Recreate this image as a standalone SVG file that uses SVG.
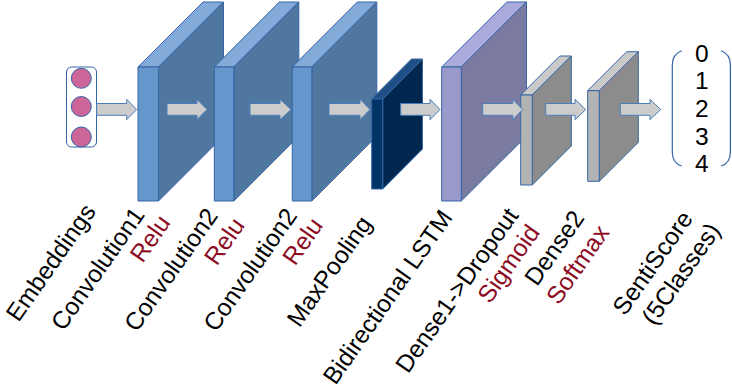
<svg xmlns="http://www.w3.org/2000/svg" width="732" height="392" viewBox="0 0 732 392">
<style>
.bg{fill:#ffffff}
.ln{stroke:#3565A5;stroke-width:1;stroke-linejoin:round}
.cf{fill:#6697CC}.cs{fill:#50779F}.ct{fill:#84AADA}
.mf{fill:#003366}.ms{fill:#00274F}.mt{fill:#1F4E85}
.lf{fill:#9999CC}.ls{fill:#7B7BA1}.lt{fill:#ABABDB}
.df{fill:#B3B3B3}.ds{fill:#8C8C8C}.dt{fill:#C9C9C9}
.arr{fill:#CCCCCC;stroke:#4A7EBB;stroke-width:1}
.lab{font-family:"Liberation Sans",Arial,sans-serif;font-size:24.5px;fill:#000000;text-anchor:middle}
.red{fill:#8C0A22}
.dig{font-family:"Liberation Sans",Arial,sans-serif;font-size:24.5px;fill:#000000;text-anchor:middle}
.par{fill:none;stroke:#3565A5;stroke-width:1.2}
</style>
<rect class="bg" x="0" y="0" width="732" height="392"/>

<g id="embeddings">
  <rect x="66.5" y="67" width="30" height="80" rx="5" fill="#ffffff" stroke="#3565A5" stroke-width="1"/>
  <circle cx="81.3" cy="78.3" r="10" fill="#CC6699" stroke="#3565A5" stroke-width="1"/>
  <circle cx="81.3" cy="106.5" r="10" fill="#CC6699" stroke="#3565A5" stroke-width="1"/>
  <circle cx="81.3" cy="137" r="10" fill="#CC6699" stroke="#3565A5" stroke-width="1"/>
  <text class="lab" transform="translate(51.5,263) rotate(-55)" y="7.5">Embeddings</text>
</g>

<g id="conv1">
  <polygon class="ct ln" points="138,67 158.5,67 223.5,2 203,2"/>
  <polygon class="cs ln" points="158.5,67 223.5,2 223.5,136 158.5,201"/>
  <rect class="cf ln" x="138" y="67" width="20.5" height="134"/>
  <text class="lab" transform="translate(98.5,269) rotate(-55)" y="7.5">Convolution1</text>
  <text class="lab red" transform="translate(150.8,239) rotate(-55)" y="7.5">Relu</text>
</g>

<g id="conv2">
  <polygon class="ct ln" points="214.3,67 233.8,67 298.8,2 279.3,2"/>
  <polygon class="cs ln" points="233.8,67 298.8,2 298.8,136 233.8,201"/>
  <rect class="cf ln" x="214.3" y="67" width="19.5" height="134"/>
  <text class="lab" transform="translate(171.7,270) rotate(-55)" y="7.5">Convolution2</text>
  <text class="lab red" transform="translate(225,241.7) rotate(-55)" y="7.5">Relu</text>
</g>

<g id="conv3">
  <polygon class="ct ln" points="292.3,67 311.8,67 376.8,2 357.3,2"/>
  <polygon class="cs ln" points="311.8,67 376.8,2 376.8,136 311.8,201"/>
  <rect class="cf ln" x="292.3" y="67" width="19.5" height="134"/>
  <text class="lab" transform="translate(250.8,270) rotate(-55)" y="7.5">Convolution2</text>
  <text class="lab red" transform="translate(303.3,241.7) rotate(-55)" y="7.5">Relu</text>
</g>

<g id="maxpooling">
  <polygon class="mt ln" points="371.7,99 382.7,99 422.5,59 411.5,59"/>
  <polygon class="ms ln" points="382.7,99 422.5,59 422.5,149 382.7,189"/>
  <rect class="mf ln" x="371.7" y="99" width="11" height="90"/>
  <text class="lab" transform="translate(330,271.7) rotate(-55)" y="7.5">MaxPooling</text>
</g>

<g id="bilstm">
  <polygon class="lt ln" points="441.7,67 461.3,67 526.5,2 506.9,2"/>
  <polygon class="ls ln" points="461.3,67 526.5,2 526.5,136 461.3,201"/>
  <rect class="lf ln" x="441.7" y="67" width="19.6" height="134"/>
  <text class="lab" transform="translate(388.3,297.5) rotate(-55)" y="7.5">Bidirectional LSTM</text>
</g>

<g id="dense1">
  <polygon class="dt ln" points="520.7,95 532.3,95 571.3,56 559.7,56"/>
  <polygon class="ds ln" points="532.3,95 571.3,56 571.3,146 532.3,185"/>
  <rect class="df ln" x="520.7" y="95" width="11.6" height="90"/>
  <text class="lab" transform="translate(457.5,290.8) rotate(-55)" y="7.5">Dense1-&gt;Dropout</text>
  <text class="lab red" transform="translate(509.2,264.2) rotate(-55)" y="7.5">Sigmoid</text>
</g>

<g id="dense2">
  <polygon class="dt ln" points="587.7,90.7 599.3,90.7 638.3,51.7 626.7,51.7"/>
  <polygon class="ds ln" points="599.3,90.7 638.3,51.7 638.3,142.3 599.3,181.3"/>
  <rect class="df ln" x="587.7" y="90.7" width="11.6" height="90.6"/>
  <text class="lab" transform="translate(555,248.3) rotate(-55)" y="7.5">Dense2</text>
  <text class="lab red" transform="translate(578.3,265) rotate(-55)" y="7.5">Softmax</text>
</g>

<g id="output">
  <path class="par" d="M681.7,50.7 C675,53 672.3,58 672.3,65 L672.3,152 C672.3,159 675,164 681.7,166"/>
  <path class="par" d="M721,50.7 C727.7,53 730.4,58 730.4,65 L730.4,152 C730.4,159 727.7,164 721,166"/>
  <text class="dig" x="701.7" y="61.5">0</text>
  <text class="dig" x="701.7" y="89.2">1</text>
  <text class="dig" x="701.7" y="116.9">2</text>
  <text class="dig" x="701.7" y="144.6">3</text>
  <text class="dig" x="701.7" y="172.3">4</text>
  <text class="lab" transform="translate(653.3,263.3) rotate(-55)" y="7.5">SentiScore</text>
  <text class="lab" transform="translate(681.7,274.2) rotate(-55)" y="7.5">(5Classes)</text>
</g>

<g id="connectors">
  <polygon class="arr" points="96.7,103.5 126.7,103.5 126.7,99.3 136.7,109.5 126.7,119.7 126.7,115.3 96.7,115.3"/>
  <polygon class="arr" points="167,103.5 197,103.5 197,99.3 207,109.5 197,119.7 197,115.3 167,115.3"/>
  <polygon class="arr" points="250,103.5 280,103.5 280,99.3 291,109.5 280,119.7 280,115.3 250,115.3"/>
  <polygon class="arr" points="329,103.5 360,103.5 360,99.3 370,109.5 360,119.7 360,115.3 329,115.3"/>
  <polygon class="arr" points="400.7,103.5 430,103.5 430,99.3 440,109.5 430,119.7 430,115.3 400.7,115.3"/>
  <polygon class="arr" points="482.7,103.5 512.7,103.5 512.7,99.3 522.7,109.5 512.7,119.7 512.7,115.3 482.7,115.3"/>
  <polygon class="arr" points="545.7,103.5 575,103.5 575,99.3 585.7,109.5 575,119.7 575,115.3 545.7,115.3"/>
  <polygon class="arr" points="620.3,103.5 650,103.5 650,99.3 660.7,109.5 650,119.7 650,115.3 620.3,115.3"/>
</g>
</svg>
